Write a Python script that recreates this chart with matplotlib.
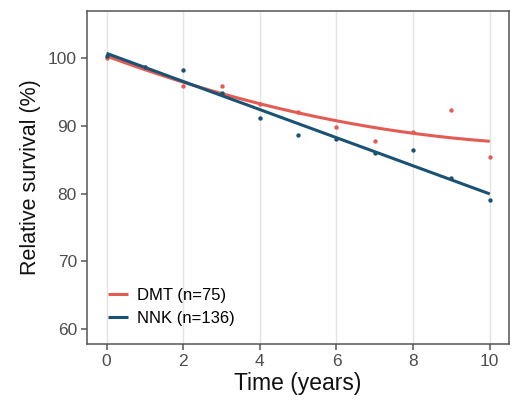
import numpy as np
import matplotlib
matplotlib.use("Agg")
import matplotlib.pyplot as plt

plt.rcParams['font.family'] = ['Liberation Sans', 'DejaVu Sans']

years = [0, 1, 2, 3, 4, 5, 6, 7, 8, 9, 10]
dmt = [100.0, 98.7, 95.9, 95.9, 93.3, 92.1, 89.8, 87.75, 89.1, 92.4, 85.4]
nnk = [100.3, 98.7, 98.2, 94.8, 91.2, 88.7, 88.0, 86.0, 86.4, 82.3, 79.0]
labels = ["DMT (n=75)", "NNK (n=136)"]
xticks = [0, 2, 4, 6, 8, 10]
yticks = [60, 70, 80, 90, 100]

c_red = "#E35B53"
c_blue = "#1A5273"

fig = plt.figure(figsize=(5.11, 4.11), dpi=100)
ax = fig.add_axes([0.171, 0.163, 0.825, 0.811])

t = np.array(years, dtype=float)
tt = np.linspace(0, 10, 200)
p_red = np.polyfit(t, dmt, 2)
p_blue = np.polyfit(t, nnk, 1)

ax.scatter(years, dmt, s=10, color=c_red, zorder=3, linewidths=0)
ax.scatter(years, nnk, s=10, color=c_blue, zorder=3, linewidths=0)
ax.plot(tt, np.polyval(p_red, tt), color=c_red, lw=2.2, label=labels[0], zorder=2, solid_capstyle='butt')
ax.plot(tt, np.polyval(p_blue, tt), color=c_blue, lw=2.2, label=labels[1], zorder=2.5, solid_capstyle='butt')

ax.set_xlim(-0.5, 10.5)
ax.set_ylim(57.8, 107.0)
ax.set_xticks(xticks)
ax.set_yticks(yticks)
ax.grid(axis='x', color='#E3E3E3', lw=1.0)
ax.set_axisbelow(True)
for s in ax.spines.values():
    s.set_color('#555555')
    s.set_linewidth(1.1)
ax.tick_params(axis='both', colors='#555555', labelcolor='#4D4D4D', labelsize=12.5, length=4, width=1.1)

ax.set_xlabel("Time (years)", fontsize=16.5, color='#111111', labelpad=2)
ax.set_ylabel("Relative survival (%)", fontsize=15.5, color='#111111', labelpad=5)

leg = ax.legend(loc='lower left', bbox_to_anchor=(0.032, 0.035), frameon=False, fontsize=12,
                handlelength=1.2, handletextpad=0.55, labelspacing=0.45, borderaxespad=0.0)

fig.savefig("out.png", dpi=100)
